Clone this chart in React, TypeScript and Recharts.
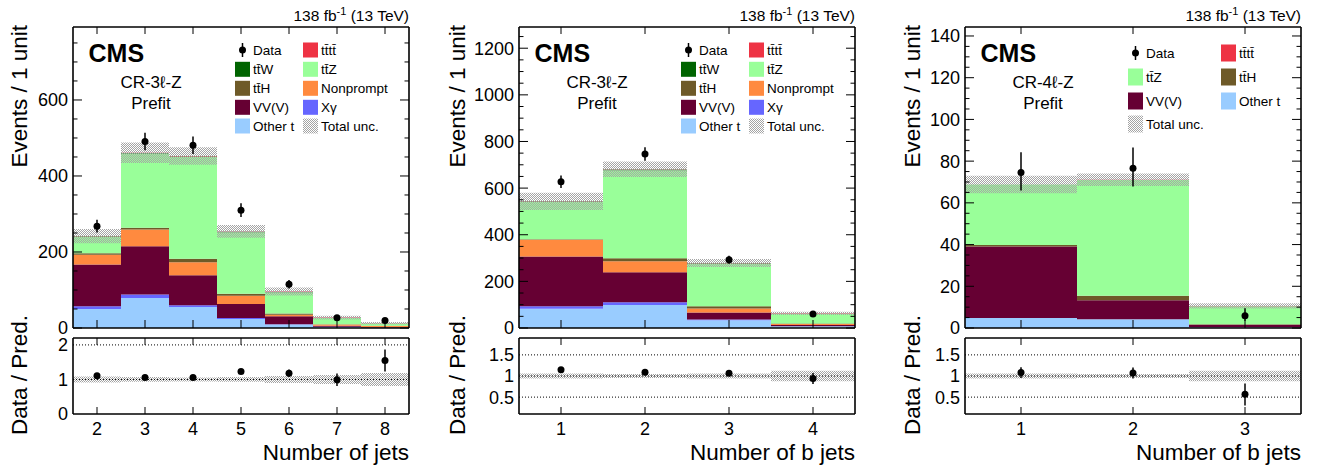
import React from "react";
import { ComposedChart, Bar, Line, XAxis, YAxis, ErrorBar, ReferenceLine } from "recharts";

const FONT = "'Liberation Sans', Arial, Helvetica, sans-serif";

const C_OTHERT = "#99ccff";
const C_XG = "#6666ff";
const C_VVV = "#660033";
const C_NONPROMPT = "#ff8a3f";
const C_TTH = "#6e5a28";
const C_TTZ = "#99ff99";
const C_TTW = "#006400";
const C_TTTT = "#ee3344";

// CR-3l-Z, number of jets
const jetBins = ["2", "3", "4", "5", "6", "7", "8"];
const jetOtherT = [50, 79, 55, 24, 9, 2.5, 1];
const jetXg = [7, 9, 5, 2, 1, 0.5, 0.2];
const jetVVV = [110, 127, 79, 37, 21, 3, 1.5];
const jetNonprompt = [26, 44, 34, 22, 4, 3, 2.5];
const jetTTH = [4, 5, 9, 5, 3, 1, 0.5];
const jetTTZ = [43, 195, 268, 162, 56, 16, 6];
const jetTTW = [1.5, 1.5, 1.5, 1.2, 0.8, 0.5, 0.3];
const jetTTTT = [0.3, 0.5, 0.8, 1, 1, 0.8, 0.6];
const jetData = [268, 491, 481, 310, 115, 27, 20];
const jetDataErr = [17, 23, 23, 18, 11, 5.5, 4.5];
const jetUnc = [19, 27, 23, 16.5, 10.5, 5, 3];
const jetRatio = [1.11, 1.06, 1.06, 1.23, 1.18, 0.99, 1.55];
const jetRatioErr = [0.07, 0.05, 0.05, 0.07, 0.11, 0.18, 0.32];
const jetRatioUnc = [0.085, 0.07, 0.06, 0.07, 0.1, 0.13, 0.19];
const jetYLabels = [0, 200, 400, 600];
const jetRLabels = [0, 1, 2];
const jetRLines = [1, 2];

// CR-3l-Z, number of b jets
const bBins = ["1", "2", "3", "4"];
const bOtherT = [83, 99, 33, 7];
const bXg = [10, 11, 3, 1];
const bVVV = [214, 129, 31, 5];
const bNonprompt = [72, 47, 17, 4];
const bTTH = [2, 13, 9, 2];
const bTTZ = [159, 378, 183, 42];
const bTTW = [3, 3, 1.5, 0.5];
const bTTTT = [0.3, 1, 1.5, 1.5];
const bData = [627, 746, 293, 60];
const bDataErr = [27, 29, 17, 8];
const bUnc = [37, 33, 17, 7];
const bRatio = [1.15, 1.09, 1.065, 0.94];
const bRatioErr = [0.05, 0.05, 0.06, 0.13];
const bRatioUnc = [0.06, 0.05, 0.06, 0.125];
const bYLabels = [0, 200, 400, 600, 800, 1000, 1200];
const bRLabels = [0.5, 1, 1.5];
const bRLines = [0.5, 1, 1.5];

// CR-4l-Z, number of b jets
const fourBins = ["1", "2", "3"];
const fourOtherT = [4.8, 4.2, 0.3];
const fourVVV = [34.3, 9.1, 1.3];
const fourTTH = [0.7, 2.2, 0.2];
const fourTTZ = [29, 55.5, 8.6];
const fourTTTT = [0, 0.1, 0.2];
const fourData = [74.6, 76.6, 5.9];
const fourDataErrLo = [8.7, 8.8, 2.4];
const fourDataErrHi = [9.7, 9.9, 3.6];
const fourUnc = [4.2, 3, 1.3];
const fourRatio = [1.08, 1.07, 0.57];
const fourRatioErrLo = [0.13, 0.13, 0.27];
const fourRatioErrHi = [0.13, 0.13, 0.25];
const fourRatioUnc = [0.06, 0.05, 0.125];
const fourYLabels = [0, 20, 40, 60, 80, 100, 120, 140];
const fourRLabels = [0.5, 1, 1.5];
const fourRLines = [0.5, 1, 1.5];

const TTW = "tt\u0304W";
const TTZ = "tt\u0304Z";
const TTH = "tt\u0304H";
const TTTT = "tt\u0304tt\u0304";

type Series = { key: string; color: string; values: number[] };
type LegendEntry = { label: string; kind: "data" | "fill" | "unc"; color?: string };

type Panel = {
  id: string;
  bins: string[];
  stack: Series[];
  data: number[];
  dataErrLo: number[];
  dataErrHi: number[];
  unc: number[];
  ratio: number[];
  ratioErrLo: number[];
  ratioErrHi: number[];
  ratioUnc: number[];
  yMax: number;
  yMinor: number;
  yLabels: number[];
  rDomain: [number, number];
  rLabels: number[];
  rLines: number[];
  plotLeft: number;
  plotRight: number;
  region: string;
  xTitle: string;
  yTitleX: number;
  legendCols: number[];
  legendRows: number[];
  swH: number;
  legend: LegendEntry[][];
};

const panels: Panel[] = [
  {
    id: "p1",
    bins: jetBins,
    stack: [
      { key: "otherT", color: C_OTHERT, values: jetOtherT },
      { key: "xg", color: C_XG, values: jetXg },
      { key: "vvv", color: C_VVV, values: jetVVV },
      { key: "nonprompt", color: C_NONPROMPT, values: jetNonprompt },
      { key: "tth", color: C_TTH, values: jetTTH },
      { key: "ttz", color: C_TTZ, values: jetTTZ },
      { key: "ttw", color: C_TTW, values: jetTTW },
      { key: "tttt", color: C_TTTT, values: jetTTTT },
    ],
    data: jetData,
    dataErrLo: jetDataErr,
    dataErrHi: jetDataErr,
    unc: jetUnc,
    ratio: jetRatio,
    ratioErrLo: jetRatioErr,
    ratioErrHi: jetRatioErr,
    ratioUnc: jetRatioUnc,
    yMax: 792,
    yMinor: 50,
    yLabels: jetYLabels,
    rDomain: [0, 2.2],
    rLabels: jetRLabels,
    rLines: jetRLines,
    plotLeft: 73,
    plotRight: 409,
    region: "CR-3\u2113-Z",
    xTitle: "Number of jets",
    yTitleX: 27,
    legendCols: [235, 303],
    legendRows: [50, 69.3, 88.3, 107.3, 126],
    swH: 15,
    legend: [
      [{ label: "Data", kind: "data" }, { label: TTTT, kind: "fill", color: C_TTTT }],
      [{ label: TTW, kind: "fill", color: C_TTW }, { label: TTZ, kind: "fill", color: C_TTZ }],
      [{ label: TTH, kind: "fill", color: C_TTH }, { label: "Nonprompt", kind: "fill", color: C_NONPROMPT }],
      [{ label: "VV(V)", kind: "fill", color: C_VVV }, { label: "X\u03b3", kind: "fill", color: C_XG }],
      [{ label: "Other t", kind: "fill", color: C_OTHERT }, { label: "Total unc.", kind: "unc" }],
    ],
  },
  {
    id: "p2",
    bins: bBins,
    stack: [
      { key: "otherT", color: C_OTHERT, values: bOtherT },
      { key: "xg", color: C_XG, values: bXg },
      { key: "vvv", color: C_VVV, values: bVVV },
      { key: "nonprompt", color: C_NONPROMPT, values: bNonprompt },
      { key: "tth", color: C_TTH, values: bTTH },
      { key: "ttz", color: C_TTZ, values: bTTZ },
      { key: "ttw", color: C_TTW, values: bTTW },
      { key: "tttt", color: C_TTTT, values: bTTTT },
    ],
    data: bData,
    dataErrLo: bDataErr,
    dataErrHi: bDataErr,
    unc: bUnc,
    ratio: bRatio,
    ratioErrLo: bRatioErr,
    ratioErrHi: bRatioErr,
    ratioUnc: bRatioUnc,
    yMax: 1291,
    yMinor: 50,
    yLabels: bYLabels,
    rDomain: [0.1, 1.9],
    rLabels: bRLabels,
    rLines: bRLines,
    plotLeft: 519,
    plotRight: 855,
    region: "CR-3\u2113-Z",
    xTitle: "Number of b jets",
    yTitleX: 465,
    legendCols: [681, 749],
    legendRows: [50, 69.3, 88.3, 107.3, 126],
    swH: 15,
    legend: [
      [{ label: "Data", kind: "data" }, { label: TTTT, kind: "fill", color: C_TTTT }],
      [{ label: TTW, kind: "fill", color: C_TTW }, { label: TTZ, kind: "fill", color: C_TTZ }],
      [{ label: TTH, kind: "fill", color: C_TTH }, { label: "Nonprompt", kind: "fill", color: C_NONPROMPT }],
      [{ label: "VV(V)", kind: "fill", color: C_VVV }, { label: "X\u03b3", kind: "fill", color: C_XG }],
      [{ label: "Other t", kind: "fill", color: C_OTHERT }, { label: "Total unc.", kind: "unc" }],
    ],
  },
  {
    id: "p3",
    bins: fourBins,
    stack: [
      { key: "otherT", color: C_OTHERT, values: fourOtherT },
      { key: "vvv", color: C_VVV, values: fourVVV },
      { key: "tth", color: C_TTH, values: fourTTH },
      { key: "ttz", color: C_TTZ, values: fourTTZ },
      { key: "tttt", color: C_TTTT, values: fourTTTT },
    ],
    data: fourData,
    dataErrLo: fourDataErrLo,
    dataErrHi: fourDataErrHi,
    unc: fourUnc,
    ratio: fourRatio,
    ratioErrLo: fourRatioErrLo,
    ratioErrHi: fourRatioErrHi,
    ratioUnc: fourRatioUnc,
    yMax: 144.3,
    yMinor: 5,
    yLabels: fourYLabels,
    rDomain: [0.1, 1.9],
    rLabels: fourRLabels,
    rLines: fourRLines,
    plotLeft: 965,
    plotRight: 1301,
    region: "CR-4\u2113-Z",
    xTitle: "Number of b jets",
    yTitleX: 920,
    legendCols: [1128, 1221],
    legendRows: [53, 77, 101, 124],
    swH: 17,
    legend: [
      [{ label: "Data", kind: "data" }, { label: TTTT, kind: "fill", color: C_TTTT }],
      [{ label: TTZ, kind: "fill", color: C_TTZ }, { label: TTH, kind: "fill", color: C_TTH }],
      [{ label: "VV(V)", kind: "fill", color: C_VVV }, { label: "Other t", kind: "fill", color: C_OTHERT }],
      [{ label: "Total unc.", kind: "unc" }],
    ],
  },
];

const frame = { stroke: "#000", strokeWidth: 1.6 };

function steps(max: number, step: number) {
  const out: number[] = [];
  for (let v = 0; v <= max + 1e-9; v += step) out.push(Math.round(v * 1000) / 1000);
  return out;
}

function buildRows(p: Panel) {
  return p.bins.map((bin, i) => {
    const row: Record<string, any> = { bin };
    let total = 0;
    p.stack.forEach((s) => {
      row[s.key] = s.values[i];
      total += s.values[i];
    });
    row.band = [total - p.unc[i], total + p.unc[i]];
    row.data = p.data[i];
    row.dataErr = [p.dataErrLo[i], p.dataErrHi[i]];
    row.ratio = p.ratio[i];
    row.ratioErr = [p.ratioErrLo[i], p.ratioErrHi[i]];
    row.ratioBand = [1 - p.ratioUnc[i], 1 + p.ratioUnc[i]];
    return row;
  });
}

function Hatch({ id }: { id: string }) {
  return (
    <pattern id={id} width={2} height={2} patternUnits="userSpaceOnUse">
      <rect x={0} y={0} width={1} height={1} fill="#a4a4a4" />
      <rect x={1} y={1} width={1} height={1} fill="#a4a4a4" />
    </pattern>
  );
}

const yTickLeft = (labels: number[]) => (props: any) => {
  const { x, y, payload } = props;
  const major = labels.includes(payload.value);
  return (
    <g>
      <line x1={x} x2={x + (major ? 9 : 4.5)} y1={y} y2={y} stroke="#000" strokeWidth={1} />
      {major && (
        <text x={x - 5} y={y} dy="0.36em" textAnchor="end" fontSize={18} fontFamily={FONT} fill="#000">
          {payload.value}
        </text>
      )}
    </g>
  );
};

const yTickRight = (labels: number[]) => (props: any) => {
  const { x, y, payload } = props;
  const major = labels.includes(payload.value);
  return <line x1={x} x2={x - (major ? 9 : 4.5)} y1={y} y2={y} stroke="#000" strokeWidth={1} />;
};

const xTickUp = (props: any) => {
  const { x, y } = props;
  return <line x1={x} x2={x} y1={y} y2={y - 8} stroke="#000" strokeWidth={1} />;
};

const xTickDown = (props: any) => {
  const { x, y } = props;
  return <line x1={x} x2={x} y1={y} y2={y + 7} stroke="#000" strokeWidth={1} />;
};

const xTickLabel = (props: any) => {
  const { x, y, payload } = props;
  return (
    <g>
      <line x1={x} x2={x} y1={y} y2={y - 7} stroke="#000" strokeWidth={1} />
      <text x={x} y={y + 21} textAnchor="middle" fontSize={18} fontFamily={FONT} fill="#000">
        {payload.value}
      </text>
    </g>
  );
};

const rTickLabel = (props: any) => {
  const { x, y, payload } = props;
  return (
    <text x={x - 5} y={y} dy="0.36em" textAnchor="end" fontSize={18} fontFamily={FONT} fill="#000">
      {payload.value}
    </text>
  );
};

function UpperChart({ p }: { p: Panel }) {
  const rows = buildRows(p);
  const w = p.plotRight - p.plotLeft + 70;
  const ticks = steps(p.yMax, p.yMinor);
  const hatch = `hatch-up-${p.id}`;
  return (
    <div style={{ position: "absolute", left: p.plotLeft - 60, top: 0 }}>
      <ComposedChart
        width={w}
        height={340}
        data={rows}
        margin={{ top: 26, right: 9, bottom: 11, left: 2 }}
        barCategoryGap={0}
        barGap={0}
      >
        <defs>
          <Hatch id={hatch} />
        </defs>
        <XAxis xAxisId="b" dataKey="bin" orientation="bottom" height={1} interval={0} tickSize={0} tickMargin={0} tickLine={false} axisLine={frame} tick={xTickUp} />
        <XAxis xAxisId="t" dataKey="bin" orientation="top" height={1} interval={0} tickSize={0} tickMargin={0} tickLine={false} axisLine={frame} tick={xTickDown} />
        <YAxis yAxisId="l" width={58} type="number" domain={[0, p.yMax]} allowDataOverflow ticks={ticks} interval={0} tickSize={0} tickMargin={0} tickLine={false} axisLine={frame} tick={yTickLeft(p.yLabels)} />
        <YAxis yAxisId="r" orientation="right" width={1} type="number" domain={[0, p.yMax]} allowDataOverflow ticks={ticks} interval={0} tickSize={0} tickMargin={0} tickLine={false} axisLine={frame} tick={yTickRight(p.yLabels)} />
        {p.stack.map((s) => (
          <Bar key={s.key} xAxisId="b" yAxisId="l" stackId="mc" dataKey={s.key} fill={s.color} isAnimationActive={false} />
        ))}
        <Bar xAxisId="t" yAxisId="l" dataKey="band" fill={`url(#${hatch})`} isAnimationActive={false} />
        <Line
          xAxisId="t"
          yAxisId="l"
          dataKey="data"
          stroke="none"
          strokeWidth={0}
          dot={{ r: 3.5, fill: "#000", stroke: "#000", strokeWidth: 0 }}
          activeDot={false}
          isAnimationActive={false}
        >
          <ErrorBar dataKey="dataErr" width={0} stroke="#000" strokeWidth={1.5} direction="y" />
        </Line>
      </ComposedChart>
    </div>
  );
}

function RatioChart({ p }: { p: Panel }) {
  const rows = buildRows(p);
  const w = p.plotRight - p.plotLeft + 70;
  const hatch = `hatch-r-${p.id}`;
  return (
    <div style={{ position: "absolute", left: p.plotLeft - 60, top: 330 }}>
      <ComposedChart
        width={w}
        height={142}
        data={rows}
        margin={{ top: 7, right: 9, bottom: 27, left: 2 }}
        barCategoryGap={0}
        barGap={0}
      >
        <defs>
          <Hatch id={hatch} />
        </defs>
        <XAxis xAxisId="b" dataKey="bin" orientation="bottom" height={31} interval={0} tickSize={0} tickMargin={0} tickLine={false} axisLine={frame} tick={xTickLabel} />
        <XAxis xAxisId="t" dataKey="bin" orientation="top" height={1} interval={0} tickSize={0} tickMargin={0} tickLine={false} axisLine={frame} tick={xTickDown} />
        <YAxis yAxisId="l" width={58} type="number" domain={p.rDomain} allowDataOverflow ticks={p.rLabels} interval={0} tickSize={0} tickMargin={0} tickLine={false} axisLine={frame} tick={rTickLabel} />
        <YAxis yAxisId="r" orientation="right" width={1} type="number" domain={p.rDomain} allowDataOverflow tick={false} tickLine={false} axisLine={frame} />
        <Bar xAxisId="b" yAxisId="l" dataKey="ratioBand" fill={`url(#${hatch})`} isAnimationActive={false} />
        {p.rLines.map((v) => (
          <ReferenceLine key={v} xAxisId="b" yAxisId="l" y={v} stroke="#000" strokeWidth={1} strokeDasharray="1 2" />
        ))}
        <Line
          xAxisId="b"
          yAxisId="l"
          dataKey="ratio"
          stroke="none"
          strokeWidth={0}
          dot={{ r: 3.5, fill: "#000", stroke: "#000", strokeWidth: 0 }}
          activeDot={false}
          isAnimationActive={false}
        >
          <ErrorBar dataKey="ratioErr" width={0} stroke="#000" strokeWidth={1.5} direction="y" />
        </Line>
      </ComposedChart>
    </div>
  );
}

function PanelText({ p }: { p: Panel }) {
  const cx = p.plotLeft + 78;
  return (
    <g fontFamily={FONT} fill="#000">
      <text x={p.plotRight} y={21} textAnchor="end" fontSize={15.5}>
        138 fb<tspan dy={-6} fontSize={11}>-1</tspan>
        <tspan dy={6}> (13 TeV)</tspan>
      </text>
      <text x={p.plotLeft + 15.5} y={61.5} fontSize={25} fontWeight="bold">
        CMS
      </text>
      <text x={cx} y={88} textAnchor="middle" fontSize={17}>
        {p.region}
      </text>
      <text x={cx} y={109} textAnchor="middle" fontSize={17}>
        Prefit
      </text>
      <text x={p.yTitleX} y={25} textAnchor="end" fontSize={22.5} transform={`rotate(-90 ${p.yTitleX} 25)`}>
        Events / 1 unit
      </text>
      <text x={p.yTitleX} y={435} textAnchor="start" fontSize={22.5} transform={`rotate(-90 ${p.yTitleX} 435)`}>
        Data / Pred.
      </text>
      <text x={p.plotRight} y={460} textAnchor="end" fontSize={22.5}>
        {p.xTitle}
      </text>
      {p.legend.map((row, ri) =>
        row.map((item, ci) => {
          const x = p.legendCols[ci];
          const y = p.legendRows[ri];
          const sw = 15;
          return (
            <g key={`${ri}-${ci}`}>
              {item.kind === "data" && (
                <g>
                  <line x1={x + sw / 2} x2={x + sw / 2} y1={y - 7} y2={y + 7} stroke="#000" strokeWidth={1.5} />
                  <circle cx={x + sw / 2} cy={y} r={3.5} fill="#000" />
                </g>
              )}
              {item.kind === "fill" && <rect x={x} y={y - p.swH / 2} width={sw} height={p.swH} fill={item.color} />}
              {item.kind === "unc" && <rect x={x} y={y - p.swH / 2} width={sw} height={p.swH} fill="url(#hatch-legend)" />}
              <text x={x + 18} y={y + 5} fontSize={13.5}>
                {item.label}
              </text>
            </g>
          );
        })
      )}
    </g>
  );
}

export default function App() {
  return (
    <div style={{ position: "absolute", left: 0, top: 0, width: 1325, height: 472, background: "#fff", fontFamily: FONT }}>
      {panels.map((p) => (
        <React.Fragment key={p.id}>
          <UpperChart p={p} />
          <RatioChart p={p} />
        </React.Fragment>
      ))}
      <svg width={1325} height={472} style={{ position: "absolute", left: 0, top: 0, pointerEvents: "none" }}>
        <defs>
          <Hatch id="hatch-legend" />
        </defs>
        {panels.map((p) => (
          <PanelText key={p.id} p={p} />
        ))}
      </svg>
    </div>
  );
}
